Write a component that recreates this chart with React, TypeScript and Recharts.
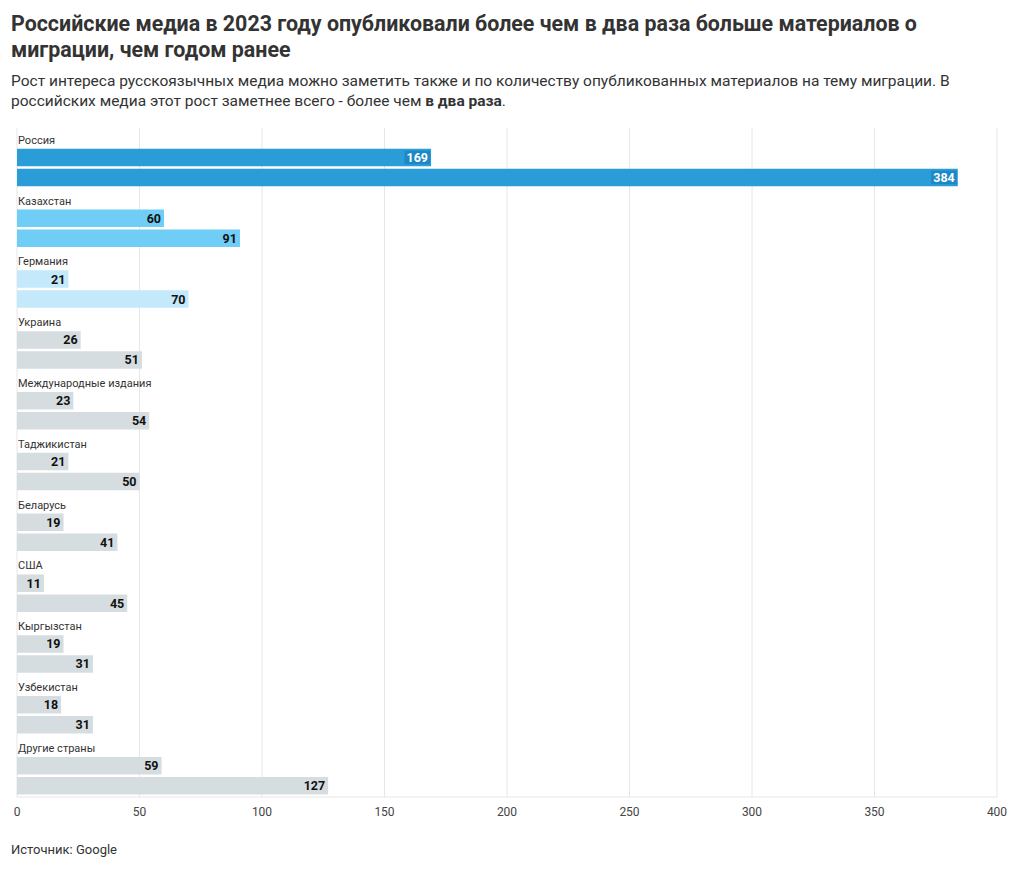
import { Bar, BarChart, CartesianGrid, Cell, LabelList, XAxis, YAxis } from "recharts";

const countries = [
  "Россия",
  "Казахстан",
  "Германия",
  "Украина",
  "Международные издания",
  "Таджикистан",
  "Беларусь",
  "США",
  "Кыргызстан",
  "Узбекистан",
  "Другие страны",
];
const values2022 = [169, 60, 21, 26, 23, 21, 19, 11, 19, 18, 59];
const values2023 = [384, 91, 70, 51, 54, 50, 41, 45, 31, 31, 127];
const xTicks = [0, 50, 100, 150, 200, 250, 300, 350, 400];

const FONT = "Roboto, 'Noto Sans', sans-serif";

function barColor(name: string) {
  if (name === "Россия") return "#2a9cd8";
  if (name === "Казахстан") return "#6fcdf6";
  if (name === "Германия") return "#c3e9fb";
  return "#d5dde0";
}

const data = countries.map((name, i) => ({
  name,
  y2022: values2022[i],
  y2023: values2023[i],
}));

function ValueLabel(props: any) {
  const { x, y, width, height, value, index } = props;
  const dark = countries[index] === "Россия";
  const w = String(value).length * 7.2 + 4;
  return (
    <g>
      {dark && <rect x={x + width - 1 - w} y={y + 2} width={w} height={height - 4} fill="#1c88c6" />}
      <text
        x={x + width - 3}
        y={y + height / 2}
        dy="0.36em"
        textAnchor="end"
        fontFamily={FONT}
        fontSize={12.5}
        fontWeight={700}
        fill={dark ? "#ffffff" : "#111111"}
      >
        {value}
      </text>
    </g>
  );
}

function CountryLabel(props: any) {
  const { x, y, index } = props;
  return (
    <text x={x + 1} y={y - 5} fontFamily={FONT} fontSize={11} fill="#333">
      {countries[index]}
    </text>
  );
}

export default function App() {
  return (
    <div style={{ position: "relative", width: 1004, height: 853, fontFamily: FONT, color: "#333" }}>
      <div
        style={{
          position: "absolute",
          left: 3,
          top: 3,
          fontSize: 21.4,
          fontWeight: 700,
          lineHeight: "26px",
          whiteSpace: "nowrap",
          color: "#333",
        }}
      >
        Российские медиа в 2023 году опубликовали более чем в два раза больше материалов о
        <br />
        миграции, чем годом ранее
      </div>
      <div
        style={{
          position: "absolute",
          left: 3,
          top: 63,
          fontSize: 15.5,
          lineHeight: "20px",
          whiteSpace: "nowrap",
          color: "#333",
        }}
      >
        Рост интереса русскоязычных медиа можно заметить также и по количеству опубликованных материалов на тему миграции. В
        <br />
        российских медиа этот рост заметнее всего - более чем <b>в два раза</b>.
      </div>
      <div style={{ position: "absolute", left: 0, top: 110 }}>
        <BarChart
          width={1004}
          height={709}
          data={data}
          layout="vertical"
          margin={{ top: 10, right: 15, bottom: 0, left: 9 }}
          barGap={2.5}
        >
          <CartesianGrid horizontal={false} stroke="#e6e6e6" />
          <XAxis
            type="number"
            domain={[0, 400]}
            ticks={xTicks}
            axisLine={{ stroke: "#e6e6e6" }}
            tickLine={false}
            height={30}
            tick={{ fontFamily: FONT, fontSize: 12, fill: "#444" }}
            tickMargin={4}
          />
          <YAxis type="category" dataKey="name" hide />
          <Bar dataKey={() => 0} barSize={16.2} fill="none" isAnimationActive={false} />
          <Bar dataKey="y2022" barSize={17.5} isAnimationActive={false}>
            {data.map((d) => (
              <Cell key={d.name} fill={barColor(d.name)} />
            ))}
            <LabelList content={<CountryLabel />} />
            <LabelList dataKey="y2022" content={<ValueLabel />} />
          </Bar>
          <Bar dataKey="y2023" barSize={17.5} isAnimationActive={false}>
            {data.map((d) => (
              <Cell key={d.name} fill={barColor(d.name)} />
            ))}
            <LabelList dataKey="y2023" content={<ValueLabel />} />
          </Bar>
        </BarChart>
      </div>
      <div style={{ position: "absolute", left: 3, top: 834, fontSize: 13, lineHeight: "16px", color: "#333" }}>
        Источник: Google
      </div>
    </div>
  );
}
